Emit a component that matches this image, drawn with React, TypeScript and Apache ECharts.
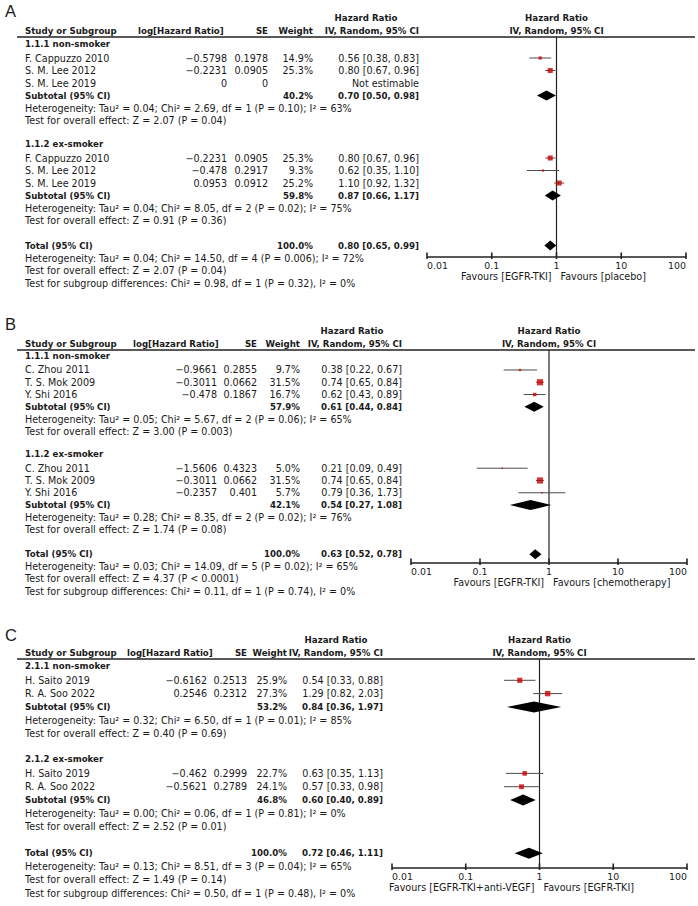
import React, { useEffect, useRef } from 'react';
import * as echarts from 'echarts';

// ---------------- shared texts ----------------
const HEADERS = ['Study or Subgroup', 'log[Hazard Ratio]', 'SE', 'Weight', 'Hazard Ratio', 'IV, Random, 95% CI'];
const TICK_LABELS = ['0.01', '0.1', '1', '10', '100'];
const SUBTOTAL_LABEL = 'Subtotal (95% CI)';
const TOTAL_LABEL = 'Total (95% CI)';
const NOT_ESTIMABLE = 'Not estimable';

// ---------------- Panel A ----------------
const A_GROUPS = ['1.1.1 non-smoker', '1.1.2 ex-smoker'];
const A_STUDIES = [['F. Cappuzzo 2010', 'S. M. Lee 2012', 'S. M. Lee 2019'], ['F. Cappuzzo 2010', 'S. M. Lee 2012', 'S. M. Lee 2019']];
const A_LOGHR = [['−0.5798', '−0.2231', '0'], ['−0.2231', '−0.478', '0.0953']];
const A_SE = [['0.1978', '0.0905', '0'], ['0.0905', '0.2917', '0.0912']];
const A_WEIGHT = [[14.9, 25.3, null], [25.3, 9.3, 25.2]];
const A_HR = [[0.56, 0.80, null], [0.80, 0.62, 1.10]];
const A_LO = [[0.38, 0.67, null], [0.67, 0.35, 0.92]];
const A_HI = [[0.83, 0.96, null], [0.96, 1.10, 1.32]];
const A_SUB_WEIGHT = [40.2, 59.8];
const A_SUB_HR = [0.70, 0.87];
const A_SUB_LO = [0.50, 0.66];
const A_SUB_HI = [0.98, 1.17];
const A_SUB_HET = [
  'Heterogeneity: Tau² = 0.04; Chi² = 2.69, df = 1 (P = 0.10); I² = 63%',
  'Heterogeneity: Tau² = 0.04; Chi² = 8.05, df = 2 (P = 0.02); I² = 75%',
];
const A_SUB_Z = ['Test for overall effect: Z = 2.07 (P = 0.04)', 'Test for overall effect: Z = 0.91 (P = 0.36)'];
const A_TOTAL = [0.80, 0.65, 0.99];
const A_TOTAL_WEIGHT = 100.0;
const A_TOTAL_NOTES = [
  'Heterogeneity: Tau² = 0.04; Chi² = 14.50, df = 4 (P = 0.006); I² = 72%',
  'Test for overall effect: Z = 2.07 (P = 0.04)',
  'Test for subgroup differences: Chi² = 0.98, df = 1 (P = 0.32), I² = 0%',
];
const A_FAVOURS = ['Favours [EGFR-TKI]', 'Favours [placebo]'];

// ---------------- Panel B ----------------
const B_GROUPS = ['1.1.1 non-smoker', '1.1.2 ex-smoker'];
const B_STUDIES = [['C. Zhou 2011', 'T. S. Mok 2009', 'Y. Shi 2016'], ['C. Zhou 2011', 'T. S. Mok 2009', 'Y. Shi 2016']];
const B_LOGHR = [['−0.9661', '−0.3011', '−0.478'], ['−1.5606', '−0.3011', '−0.2357']];
const B_SE = [['0.2855', '0.0662', '0.1867'], ['0.4323', '0.0662', '0.401']];
const B_WEIGHT = [[9.7, 31.5, 16.7], [5.0, 31.5, 5.7]];
const B_HR = [[0.38, 0.74, 0.62], [0.21, 0.74, 0.79]];
const B_LO = [[0.22, 0.65, 0.43], [0.09, 0.65, 0.36]];
const B_HI = [[0.67, 0.84, 0.89], [0.49, 0.84, 1.73]];
const B_SUB_WEIGHT = [57.9, 42.1];
const B_SUB_HR = [0.61, 0.54];
const B_SUB_LO = [0.44, 0.27];
const B_SUB_HI = [0.84, 1.08];
const B_SUB_HET = [
  'Heterogeneity: Tau² = 0.05; Chi² = 5.67, df = 2 (P = 0.06); I² = 65%',
  'Heterogeneity: Tau² = 0.28; Chi² = 8.35, df = 2 (P = 0.02); I² = 76%',
];
const B_SUB_Z = ['Test for overall effect: Z = 3.00 (P = 0.003)', 'Test for overall effect: Z = 1.74 (P = 0.08)'];
const B_TOTAL = [0.63, 0.52, 0.78];
const B_TOTAL_WEIGHT = 100.0;
const B_TOTAL_NOTES = [
  'Heterogeneity: Tau² = 0.03; Chi² = 14.09, df = 5 (P = 0.02); I² = 65%',
  'Test for overall effect: Z = 4.37 (P < 0.0001)',
  'Test for subgroup differences: Chi² = 0.11, df = 1 (P = 0.74), I² = 0%',
];
const B_FAVOURS = ['Favours [EGFR-TKI]', 'Favours [chemotherapy]'];

// ---------------- Panel C ----------------
const C_GROUPS = ['2.1.1 non-smoker', '2.1.2 ex-smoker'];
const C_STUDIES = [['H. Saito 2019', 'R. A. Soo 2022'], ['H. Saito 2019', 'R. A. Soo 2022']];
const C_LOGHR = [['−0.6162', '0.2546'], ['−0.462', '−0.5621']];
const C_SE = [['0.2513', '0.2312'], ['0.2999', '0.2789']];
const C_WEIGHT = [[25.9, 27.3], [22.7, 24.1]];
const C_HR = [[0.54, 1.29], [0.63, 0.57]];
const C_LO = [[0.33, 0.82], [0.35, 0.33]];
const C_HI = [[0.88, 2.03], [1.13, 0.98]];
const C_SUB_WEIGHT = [53.2, 46.8];
const C_SUB_HR = [0.84, 0.60];
const C_SUB_LO = [0.36, 0.40];
const C_SUB_HI = [1.97, 0.89];
const C_SUB_HET = [
  'Heterogeneity: Tau² = 0.32; Chi² = 6.50, df = 1 (P = 0.01); I² = 85%',
  'Heterogeneity: Tau² = 0.00; Chi² = 0.06, df = 1 (P = 0.81); I² = 0%',
];
const C_SUB_Z = ['Test for overall effect: Z = 0.40 (P = 0.69)', 'Test for overall effect: Z = 2.52 (P = 0.01)'];
const C_TOTAL = [0.72, 0.46, 1.11];
const C_TOTAL_WEIGHT = 100.0;
const C_TOTAL_NOTES = [
  'Heterogeneity: Tau² = 0.13; Chi² = 8.51, df = 3 (P = 0.04); I² = 65%',
  'Test for overall effect: Z = 1.49 (P = 0.14)',
  'Test for subgroup differences: Chi² = 0.50, df = 1 (P = 0.48), I² = 0%',
];
const C_FAVOURS = ['Favours [EGFR-TKI+anti-VEGF]', 'Favours [EGFR-TKI]'];

const PANELS = [
  { label: 'A', groups: A_GROUPS, studies: A_STUDIES, logHR: A_LOGHR, se: A_SE, weight: A_WEIGHT, hr: A_HR, lo: A_LO, hi: A_HI,
    subW: A_SUB_WEIGHT, subHR: A_SUB_HR, subLo: A_SUB_LO, subHi: A_SUB_HI, subHet: A_SUB_HET, subZ: A_SUB_Z,
    total: A_TOTAL, totalW: A_TOTAL_WEIGHT, totalNotes: A_TOTAL_NOTES, favours: A_FAVOURS },
  { label: 'B', groups: B_GROUPS, studies: B_STUDIES, logHR: B_LOGHR, se: B_SE, weight: B_WEIGHT, hr: B_HR, lo: B_LO, hi: B_HI,
    subW: B_SUB_WEIGHT, subHR: B_SUB_HR, subLo: B_SUB_LO, subHi: B_SUB_HI, subHet: B_SUB_HET, subZ: B_SUB_Z,
    total: B_TOTAL, totalW: B_TOTAL_WEIGHT, totalNotes: B_TOTAL_NOTES, favours: B_FAVOURS },
  { label: 'C', groups: C_GROUPS, studies: C_STUDIES, logHR: C_LOGHR, se: C_SE, weight: C_WEIGHT, hr: C_HR, lo: C_LO, hi: C_HI,
    subW: C_SUB_WEIGHT, subHR: C_SUB_HR, subLo: C_SUB_LO, subHi: C_SUB_HI, subHet: C_SUB_HET, subZ: C_SUB_Z,
    total: C_TOTAL, totalW: C_TOTAL_WEIGHT, totalNotes: C_TOTAL_NOTES, favours: C_FAVOURS },
];

// ---------------- layout (pixels) ----------------
const LAYOUT = [
  { labelY: 11, lineY: 37, axisY: 257, gridLeft: 427, gridRight: 12, rowBase: 45.5, unit: 12.5,
    colLogHdr: 138, colLog: 227, colSE: 268, colW: 313, colCI: 419, hrHdr: 366, diamondH: 10 },
  { labelY: 323.5, lineY: 350, axisY: 563, gridLeft: 411, gridRight: 11, rowBase: 357.7, unit: 12.28,
    colLogHdr: 133, colLog: 217, colSE: 257, colW: 300, colCI: 402, hrHdr: 352, diamondH: 10 },
  { labelY: 634.5, lineY: 659, axisY: 868, gridLeft: 392, gridRight: 11, rowBase: 667, unit: 13.3,
    colLogHdr: 127, colLog: 207, colSE: 247, colW: 287, colCI: 383, hrHdr: 336, diamondH: 11 },
];
const GRID_EXTRA = 30;

const W = 698;
const H = 906;
const FONT = '"DejaVu Sans", sans-serif';
const REG = 9.6;
const BOLD = 8.65;
const TEXT_COLOR = '#1a1a1a';
const LINE_COLOR = '#222222';
const SQUARE_COLOR = '#cc0000';
const CI_COLOR = '#4d4d4d';

const squareSize = (w: number) => 0.5 + w * 0.18;
const fmtCI = (h: number, l: number, u: number) => `${h.toFixed(2)} [${l.toFixed(2)}, ${u.toFixed(2)}]`;

function txt(x: number, y: number, text: string, opt: { bold?: boolean; align?: string; size?: number; family?: string } = {}) {
  const align = opt.align || 'left';
  return {
    type: 'text',
    x,
    y,
    silent: true,
    style: {
      text,
      fill: TEXT_COLOR,
      fontSize: opt.size || (opt.bold ? BOLD : REG),
      fontFamily: opt.family || FONT,
      fontWeight: opt.bold ? 'bold' : 'normal',
      align,
      textAlign: align,
      verticalAlign: 'middle',
      textVerticalAlign: 'middle',
    },
  };
}

function buildOption() {
  const grid: any[] = [];
  const xAxis: any[] = [];
  const yAxis: any[] = [];
  const series: any[] = [];
  const graphic: any[] = [];
  const tickValues = TICK_LABELS.map(Number);

  PANELS.forEach((p, i) => {
    const L = LAYOUT[i];
    const rowY = (r: number) => L.rowBase + r * L.unit;
    const rowTop = (L.lineY - L.rowBase) / L.unit;
    const rowAxis = (L.axisY - L.rowBase) / L.unit;
    const rowGridBottom = (L.axisY + GRID_EXTRA - L.rowBase) / L.unit;
    const plotW = W - L.gridRight - L.gridLeft;
    const plotCx = L.gridLeft + plotW / 2;
    const oneX = L.gridLeft + plotW / 2;

    grid.push({ left: L.gridLeft, right: L.gridRight, top: L.lineY, height: L.axisY + GRID_EXTRA - L.lineY });
    xAxis.push({
      type: 'log',
      logBase: 10,
      gridIndex: i,
      min: 0.01,
      max: 100,
      splitNumber: 4,
      axisLine: { show: false, onZero: false },
      axisTick: { show: false },
      minorTick: { show: false },
      splitLine: { show: false },
      axisLabel: { show: false },
    });
    yAxis.push({
      type: 'value',
      gridIndex: i,
      min: -rowGridBottom,
      max: -rowTop,
      axisLine: { show: false, onZero: false },
      axisTick: { show: false },
      axisLabel: { show: false },
      splitLine: { show: false },
    });

    const n = p.studies[0].length;
    const ciData: number[][] = [];
    const sqData: any[] = [];
    const diaData: number[][] = [];

    graphic.push(txt(5, L.labelY, p.label, { size: 16.5, family: '"Liberation Sans", Arial, sans-serif' }));
    const h1 = L.lineY - 19;
    const h2 = L.lineY - 6;
    graphic.push(txt(25, h2, HEADERS[0], { bold: true }));
    graphic.push(txt(L.colLogHdr, h2, HEADERS[1], { bold: true }));
    graphic.push(txt(L.colSE, h2, HEADERS[2], { bold: true, align: 'right' }));
    graphic.push(txt(L.colW, h2, HEADERS[3], { bold: true, align: 'right' }));
    graphic.push(txt(L.hrHdr, h1, HEADERS[4], { bold: true, align: 'center' }));
    graphic.push(txt(L.colCI, h2, HEADERS[5], { bold: true, align: 'right' }));
    graphic.push(txt(plotCx, h1, HEADERS[4], { bold: true, align: 'center' }));
    graphic.push(txt(plotCx, h2, HEADERS[5], { bold: true, align: 'center' }));
    graphic.push({
      type: 'rect',
      silent: true,
      shape: { x: 17, y: L.lineY - 0.65, width: 678, height: 1.3 },
      style: { fill: LINE_COLOR },
    });

    p.groups.forEach((gName, g) => {
      const base = g * (n + 5);
      graphic.push(txt(25, rowY(base) - 1.5, gName, { bold: true }));
      p.studies[g].forEach((s, j) => {
        const r = base + 1 + j;
        const y = rowY(r);
        graphic.push(txt(25, y, s));
        graphic.push(txt(L.colLog, y, p.logHR[g][j], { align: 'right' }));
        graphic.push(txt(L.colSE, y, p.se[g][j], { align: 'right' }));
        const w = p.weight[g][j];
        const h = p.hr[g][j];
        if (w != null && h != null) {
          graphic.push(txt(L.colW, y, `${w.toFixed(1)}%`, { align: 'right' }));
          graphic.push(txt(L.colCI, y, fmtCI(h, p.lo[g][j] as number, p.hi[g][j] as number), { align: 'right' }));
          ciData.push([p.lo[g][j] as number, p.hi[g][j] as number, -r]);
          sqData.push({ value: [h, -r], symbolSize: squareSize(w) });
        } else {
          graphic.push(txt(L.colCI, y, NOT_ESTIMABLE, { align: 'right' }));
        }
      });
      const rs = base + n + 1;
      const ys = rowY(rs);
      graphic.push(txt(25, ys, SUBTOTAL_LABEL, { bold: true }));
      graphic.push(txt(L.colW, ys, `${p.subW[g].toFixed(1)}%`, { bold: true, align: 'right' }));
      graphic.push(txt(L.colCI, ys, fmtCI(p.subHR[g], p.subLo[g], p.subHi[g]), { bold: true, align: 'right' }));
      diaData.push([p.subHR[g], p.subLo[g], p.subHi[g], -rs]);
      graphic.push(txt(25, rowY(rs + 1), p.subHet[g]));
      graphic.push(txt(25, rowY(rs + 2), p.subZ[g]));
    });

    const rt = 2 * (n + 5);
    const yt = rowY(rt);
    graphic.push(txt(25, yt, TOTAL_LABEL, { bold: true }));
    graphic.push(txt(L.colW, yt, `${p.totalW.toFixed(1)}%`, { bold: true, align: 'right' }));
    graphic.push(txt(L.colCI, yt, fmtCI(p.total[0], p.total[1], p.total[2]), { bold: true, align: 'right' }));
    diaData.push([p.total[0], p.total[1], p.total[2], -rt]);
    p.totalNotes.forEach((t, k) => graphic.push(txt(25, rowY(rt + 1 + k), t)));

    const fy = L.axisY + 19.5;
    graphic.push(txt(oneX - 5, fy, p.favours[0], { align: 'right' }));
    graphic.push(txt(oneX + 4, fy, p.favours[1], { align: 'left' }));

    // scale: baseline (0.01..100), decade ticks and labels, placed through the log axis
    const nT = tickValues.length;
    series.push({
      type: 'custom',
      xAxisIndex: i,
      yAxisIndex: i,
      silent: true,
      clip: false,
      data: tickValues.map((v, k) => [v, -rowAxis, k]),
      encode: { x: 0, y: 1 },
      renderItem: (params: any, api: any) => {
        const c = api.coord([api.value(0), api.value(1)]);
        const k = api.value(2);
        const align = k === 0 ? 'left' : k === nT - 1 ? 'right' : 'center';
        const children: any[] = [
          {
            type: 'rect',
            shape: { x: c[0] - 0.8, y: c[1] - 4.5, width: 1.6, height: 6.5 },
            style: { fill: LINE_COLOR },
          },
          {
            type: 'text',
            x: c[0],
            y: c[1] + 8.5,
            style: {
              text: TICK_LABELS[k],
              fill: TEXT_COLOR,
              fontSize: 9.4,
              fontFamily: FONT,
              align,
              textAlign: align,
              verticalAlign: 'middle',
              textVerticalAlign: 'middle',
            },
          },
        ];
        if (k < nT - 1) {
          const next = api.coord([tickValues[k + 1], api.value(1)]);
          children.push({
            type: 'rect',
            shape: { x: c[0], y: c[1] - 0.8, width: next[0] - c[0], height: 1.6 },
            style: { fill: LINE_COLOR },
          });
        }
        return { type: 'group', children };
      },
      z: 4,
    });
    // vertical line of no effect (HR = 1)
    series.push({
      type: 'line',
      xAxisIndex: i,
      yAxisIndex: i,
      data: [[1, -rowAxis], [1, -rowTop]],
      symbol: 'none',
      silent: true,
      clip: false,
      lineStyle: { color: LINE_COLOR, width: 1.2 },
      z: 1,
    });
    // confidence intervals
    series.push({
      type: 'custom',
      xAxisIndex: i,
      yAxisIndex: i,
      silent: true,
      data: ciData,
      encode: { x: [0, 1], y: 2 },
      renderItem: (params: any, api: any) => {
        const a = api.coord([api.value(0), api.value(2)]);
        const b = api.coord([api.value(1), api.value(2)]);
        return {
          type: 'line',
          shape: { x1: a[0], y1: a[1], x2: b[0], y2: b[1] },
          style: { stroke: CI_COLOR, lineWidth: 1 },
        };
      },
      z: 2,
    });
    // study squares
    series.push({
      type: 'scatter',
      xAxisIndex: i,
      yAxisIndex: i,
      silent: true,
      symbol: 'rect',
      data: sqData,
      itemStyle: { color: SQUARE_COLOR },
      z: 3,
    });
    // pooled diamonds
    const dh = L.diamondH / 2;
    series.push({
      type: 'custom',
      xAxisIndex: i,
      yAxisIndex: i,
      silent: true,
      data: diaData,
      encode: { x: [0, 1, 2], y: 3 },
      renderItem: (params: any, api: any) => {
        const y = api.value(3);
        const c = api.coord([api.value(0), y]);
        const l = api.coord([api.value(1), y]);
        const r = api.coord([api.value(2), y]);
        return {
          type: 'polygon',
          shape: { points: [[l[0], c[1]], [c[0], c[1] - dh], [r[0], c[1]], [c[0], c[1] + dh]] },
          style: { fill: '#000000' },
        };
      },
      z: 3,
    });
  });

  return {
    animation: false,
    backgroundColor: '#ffffff',
    grid,
    xAxis,
    yAxis,
    series,
    graphic: { elements: graphic },
  };
}

export default function App() {
  const ref = useRef<HTMLDivElement>(null);
  useEffect(() => {
    if (!ref.current) return;
    const chart = echarts.init(ref.current, undefined, { renderer: 'svg' });
    chart.setOption(buildOption() as any);
    return () => chart.dispose();
  }, []);
  return <div ref={ref} style={{ position: 'absolute', left: 0, top: 0, width: W, height: H, background: '#fff' }} />;
}
